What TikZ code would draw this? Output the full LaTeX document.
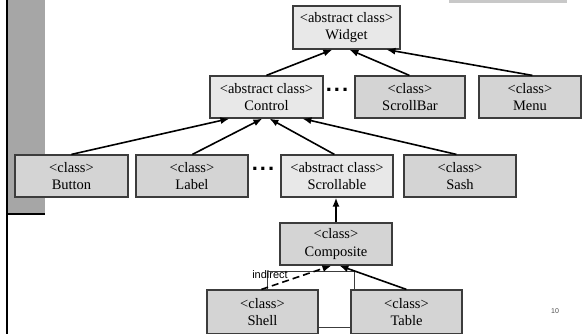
\documentclass[tikz,border=0pt]{standalone}
\usepackage{fontspec}
\setmainfont{Liberation Serif}
\setsansfont{Liberation Sans}
\usetikzlibrary{arrows.meta}
\definecolor{lightbox}{HTML}{E8E8E8}
\definecolor{darkbox}{HTML}{D4D4D4}
\definecolor{boxline}{HTML}{3C3C3C}
\definecolor{barfill}{HTML}{A6A6A6}
\definecolor{topbar}{HTML}{C8C8C8}
\tikzset{
  cls/.style={draw=boxline, line width=1.2pt, inner sep=0pt, align=center,
    font=\fontsize{14.5}{17.5}\selectfont},
  absbox/.style={cls, fill=lightbox},
  conbox/.style={cls, fill=darkbox},
  inh/.style={-{Latex[length=9pt,width=7pt]}, line width=1.6pt, black},
  thinl/.style={line width=0.8pt, draw=boxline},
  dots/.style={font=\sffamily\bfseries\fontsize{22}{22}\selectfont, inner sep=0pt}
}
\begin{document}
\begin{tikzpicture}[x=1pt,y=-1pt]
\useasboundingbox (0,0) rectangle (584,333);
% slide decorations
\fill[barfill] (8,0) rectangle (45,214);
\draw[line width=2pt] (7,0) -- (7,334);
\draw[line width=2pt] (6,214) -- (45,214);
\fill[topbar] (449,0) rectangle (567,3);

% nodes
\node[absbox, minimum width=107pt, minimum height=43pt] (widget) at (346.5,27.5) {<abstract class>\\Widget};
\node[absbox, minimum width=113pt, minimum height=42pt] (control) at (266.5,97) {<abstract class>\\Control};
\node[conbox, minimum width=110pt, minimum height=42pt] (scrollbar) at (410,97) {<class>\\ScrollBar};
\node[conbox, minimum width=102pt, minimum height=42pt] (menu) at (530,97) {<class>\\Menu};
\node[dots] (dots1) at (337,90) {.\hspace{2pt}.\hspace{2pt}.};

\node[conbox, minimum width=113pt, minimum height=42pt] (button) at (71.5,176) {<class>\\Button};
\node[conbox, minimum width=112pt, minimum height=42pt] (label) at (192,176) {<class>\\Label};
\node[dots] (dots2) at (263,169) {.\hspace{2pt}.\hspace{2pt}.};
\node[absbox, minimum width=112pt, minimum height=42pt] (scrollable) at (337,176) {<abstract class>\\Scrollable};
\node[conbox, minimum width=112pt, minimum height=42pt] (sash) at (460,176) {<class>\\Sash};

\node[conbox, minimum width=112pt, minimum height=42pt] (composite) at (336,244) {<class>\\Composite};

\node[conbox, minimum width=111pt, minimum height=44pt] (shell) at (262.5,312) {<class>\\Shell};
\node[conbox, minimum width=111pt, minimum height=44pt] (table) at (406.5,312) {<class>\\Table};

\node[font=\sffamily\fontsize{7}{7}\selectfont, text=black!70] (pagenum) at (555,311) {10};

% thin connectors
\coordinate (ybot) at (0,327);
\draw[thinl] ([xshift=61pt]shell.north west) -- ++(0,-18) -| ([xshift=4pt]table.north west);
\draw[thinl] (shell.east |- ybot) -- (table.west |- ybot);

% inheritance arrows
\draw[inh] ([xshift=57pt]control.north west) -- ([xshift=40pt]widget.south west);
\draw[inh] ([xshift=55pt]scrollbar.north west) -- ([xshift=57pt]widget.south west);
\draw[inh] ([xshift=54pt]menu.north west) -- ([xshift=94pt]widget.south west);

\draw[inh] ([xshift=57pt]button.north west) -- ([xshift=20pt]control.south west);
\draw[inh] ([xshift=57pt]label.north west) -- ([xshift=53pt]control.south west);
\draw[inh] ([xshift=54pt]scrollable.north west) -- ([xshift=60pt]control.south west);
\draw[inh] ([xshift=53pt]sash.north west) -- ([xshift=93pt]control.south west);

\draw[inh] (composite.north) -- (composite.north |- scrollable.south);
\draw[inh] ([xshift=56pt]table.north west) -- ([xshift=60pt]composite.south west);
\draw[inh, dashed, dash pattern=on 7pt off 4pt] ([xshift=55pt]shell.north west) -- ([xshift=52pt]composite.south west);

\node[font=\sffamily\fontsize{11}{11}\selectfont, inner sep=0pt] (indirect) at (270,275) {indirect};
\end{tikzpicture}
\end{document}
